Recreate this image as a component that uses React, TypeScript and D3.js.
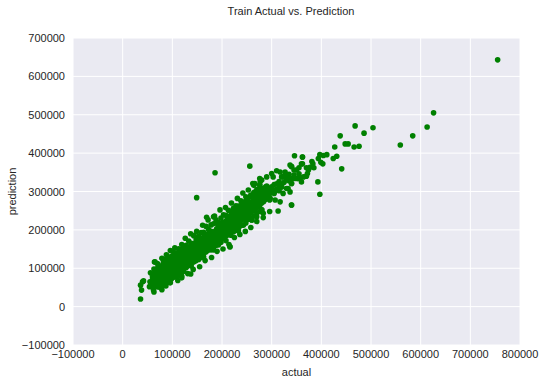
import React from "react";
import * as d3 from "d3";

// values in thousands of dollars
const actualK: number[] = [];
const predictionK: number[] = [];

// dense band core: [actual, ...predictions]
const bandColumns: number[][] = [
  [60, 70, 78], [63, 60, 85], [66, 72, 95], [68, 55, 88], [70, 65, 100], [72, 80, 70],
  [75, 90, 62, 104], [77, 75, 95], [80, 68, 84, 108], [82, 92, 78, 115], [84, 100, 72],
  [86, 88, 118, 104], [88, 80, 96, 110], [90, 70, 100, 124, 88], [92, 106, 84, 116],
  [94, 92, 120, 78], [96, 102, 86, 130, 112], [98, 96, 110, 80], [100, 90, 104, 120, 132, 76],
  [102, 98, 112, 126], [104, 88, 108, 118, 138], [106, 100, 84, 122, 112], [108, 96, 116, 130, 106],
  [110, 92, 104, 120, 140, 112], [112, 100, 124, 86, 114], [114, 108, 130, 96, 118, 142],
  [116, 104, 122, 112, 134], [118, 96, 116, 128, 108], [120, 110, 124, 100, 138, 146],
  [122, 104, 118, 130, 114, 92], [124, 112, 126, 140, 120], [126, 108, 122, 134, 150, 116],
  [128, 118, 130, 104, 142, 124], [130, 112, 126, 138, 120, 154], [132, 120, 132, 144, 108, 128],
  [134, 116, 128, 140, 150, 124], [136, 124, 136, 112, 146, 130], [138, 120, 132, 142, 158, 128],
  [140, 126, 138, 150, 116, 134], [142, 130, 142, 122, 156, 164], [144, 128, 140, 150, 134, 118],
  [146, 136, 146, 126, 160, 142], [148, 132, 144, 154, 140, 124, 170], [150, 138, 150, 128, 162, 146],
  [152, 142, 154, 134, 166, 150], [154, 136, 148, 160, 128, 156], [156, 144, 156, 138, 170, 150],
  [158, 140, 152, 162, 132, 176], [160, 148, 160, 142, 172, 154], [162, 152, 164, 136, 158, 180],
  [164, 146, 158, 170, 150, 140], [166, 156, 168, 148, 176, 162], [168, 150, 162, 174, 144, 186],
  [170, 158, 170, 152, 182, 164], [172, 162, 174, 148, 168, 190], [174, 156, 168, 180, 160],
  [176, 166, 178, 154, 186, 172], [178, 160, 172, 184, 164, 196], [180, 170, 182, 158, 190, 176],
  [183, 166, 178, 188, 172, 148, 234], [186, 174, 186, 196, 164, 180], [189, 180, 192, 170, 202],
  [192, 176, 188, 198, 182, 210], [195, 184, 196, 174, 206, 190], [198, 190, 200, 180, 212],
  [201, 186, 198, 208, 194, 220], [204, 194, 206, 182, 216], [207, 198, 210, 190, 222, 204],
  [210, 202, 214, 186, 226], [213, 206, 218, 198, 230, 212], [216, 210, 222, 156, 236, 200],
  [219, 214, 226, 204, 240], [222, 208, 220, 232, 216], [225, 218, 230, 210, 244, 198],
  [228, 222, 234, 214, 248], [231, 226, 238, 216, 252], [234, 230, 242, 220, 256, 206],
  [237, 234, 246, 224, 262], [240, 238, 250, 228, 266, 212], [244, 242, 254, 232, 270],
  [248, 246, 258, 236, 276, 224], [252, 250, 262, 240, 282], [256, 254, 266, 244, 366, 230],
  [260, 258, 270, 248, 226, 288], [264, 262, 276, 250, 292], [268, 266, 280, 256, 300],
  [272, 270, 284, 260, 296], [276, 274, 288, 264, 308, 317], [280, 278, 292, 270, 252, 304],
  [284, 282, 296, 274, 308], [288, 286, 300, 280, 312], [292, 290, 304, 284], [296, 294, 308, 302, 278],
  [300, 298, 312, 347], [305, 304, 318, 295], [310, 306, 320, 354], [315, 312, 326, 302],
  [320, 318, 338, 312], [325, 324, 340], [330, 332, 338, 308], [335, 328, 345],
  [340, 365, 321, 265, 334], [345, 343, 356], [350, 356, 334], [355, 346, 362], [362, 390, 372], [370, 340, 362],
];

// extra core fill for the upper part of the band
const bandFill: number[][] = [
  [197, 194, 207], [202, 203, 189], [206, 213, 199], [211, 208, 221], [215, 217, 204],
  [220, 224, 211], [224, 226, 237], [229, 231, 219], [233, 238, 227], [238, 242, 254],
  [242, 248, 236], [246, 252, 264], [250, 256, 244], [255, 259, 272], [259, 264, 252],
  [263, 268, 282], [267, 272, 262], [271, 278, 290],
];

// band middle ring: [actual, upper, lower]
const bandRing: number[][] = [
  [71, 93, 51], [76, 104, 50], [82, 110, 56], [87, 123, 64], [93, 118, 63], [98, 129, 72],
  [103, 141, 77], [108, 135, 78], [113, 151, 85], [118, 148, 90], [123, 157, 93], [128, 160, 102],
  [133, 171, 110], [138, 165, 106], [143, 185, 116], [148, 176, 120], [153, 184, 123], [158, 193, 128],
  [163, 194, 130], [168, 209, 143], [173, 201, 148], [178, 213, 148], [183, 216, 155], [188, 226, 160],
  [193, 219, 161], [198, 231, 168], [203, 239, 178], [208, 238, 172], [213, 251, 189], [218, 248, 186],
  [223, 256, 195], [228, 263, 200], [233, 262, 197], [238, 276, 214], [243, 271, 212], [248, 286, 218],
  [253, 284, 228], [258, 291, 228], [264, 297, 236], [270, 305, 244], [276, 304, 248],
];

// band outer fringe: [actual, prediction(s)]
const bandOuter: number[][] = [
  [63, 98, 38], [70, 112], [79, 126, 44], [88, 135], [96, 62, 146], [105, 153], [111, 68],
  [119, 162, 80], [126, 178], [131, 86], [137, 190], [142, 97], [149, 196], [155, 104], [161, 212],
  [166, 120], [172, 226], [179, 128], [185, 236], [190, 144], [196, 252], [202, 150], [207, 258],
  [214, 162], [219, 270], [225, 180], [231, 282], [236, 188], [242, 296], [247, 196], [253, 304],
  [258, 206], [264, 316], [270, 222], [277, 326], [283, 232], [290, 338], [296, 248],
];

// individually read points: [actual, prediction]
const singlePoints: number[][] = [
  [36, 20], [38, 43], [40, 65], [36, 56], [42, 67], [55, 65], [58, 61], [62, 43], [54, 52], [62, 52],
  [64, 116], [56, 88], [87, 54], [66, 80], [70, 78], [74, 85], [72, 92], [78, 88], [119, 75], [137, 85],
  [65, 117], [149, 284], [186, 349], [169, 233], [260, 226], [216, 156],
  [381, 378], [383, 372], [377, 363], [374, 356], [385, 362], [372, 347], [357, 334], [360, 325],
  [397, 396], [404, 394], [411, 396], [394, 386], [424, 386], [431, 392], [360, 372], [403, 372],
  [441, 359], [393, 325], [397, 293], [399, 376], [427, 416], [448, 424], [454, 424], [466, 416],
  [476, 418], [438, 445], [486, 452], [468, 471], [504, 466], [559, 421], [584, 445], [613, 468],
  [626, 505], [755, 643], [346, 393], [362, 390], [337, 369], [340, 365], [317, 351], [327, 351],
  [303, 338], [323, 338], [330, 332], [276, 334], [280, 330], [266, 321], [344, 334], [340, 321],
  [354, 334], [364, 338], [262, 321], [276, 317], [290, 314], [283, 308], [297, 304], [307, 302],
  [320, 312], [323, 295], [333, 308], [337, 299], [270, 295], [283, 295], [263, 278], [287, 286],
  [276, 269], [297, 282], [256, 269], [266, 260], [280, 252], [256, 243], [270, 234], [283, 243],
  [317, 273], [307, 278], [340, 265], [313, 249],
];

[bandColumns, bandFill, bandRing, bandOuter].forEach((group) =>
  group.forEach((col) => {
    for (let i = 1; i < col.length; i++) {
      actualK.push(col[0]);
      predictionK.push(col[i]);
    }
  })
);
singlePoints.forEach(([a, p]) => {
  actualK.push(a);
  predictionK.push(p);
});

const xTicks = [-100000, 0, 100000, 200000, 300000, 400000, 500000, 600000, 700000, 800000];
const yTicks = [-100000, 0, 100000, 200000, 300000, 400000, 500000, 600000, 700000];

const W = 546;
const H = 384;
const left = 73;
const right = 520;
const top = 38;
const bottom = 345;

const fmt = (v: number) => (v < 0 ? "\u2212" + Math.abs(v) : String(v));

export default function App() {
  const x = d3.scaleLinear().domain([-100000, 800000]).range([left, right]);
  const y = d3.scaleLinear().domain([-100000, 700000]).range([bottom, top]);
  const font = "'Liberation Sans', Arial, sans-serif";
  const txt = "#262626";
  return (
    <svg
      width={W}
      height={H}
      style={{ position: "absolute", left: 0, top: 0, background: "#fff" }}
      fontFamily={font}
    >
      <rect x={left} y={top} width={right - left} height={bottom - top} fill="#EAEAF2" />
      {xTicks.map((t) => (
        <line key={"gx" + t} x1={x(t)} x2={x(t)} y1={top} y2={bottom} stroke="#fff" strokeWidth={1} />
      ))}
      {yTicks.map((t) => (
        <line key={"gy" + t} x1={left} x2={right} y1={y(t)} y2={y(t)} stroke="#fff" strokeWidth={1} />
      ))}
      {actualK.map((a, i) => (
        <circle key={i} cx={x(a * 1000)} cy={y(predictionK[i] * 1000)} r={2.8} fill="#008000" />
      ))}
      {xTicks.map((t) => (
        <text key={"tx" + t} x={x(t)} y={358} textAnchor="middle" fontSize={11} fill={txt}>
          {fmt(t)}
        </text>
      ))}
      {yTicks.map((t) => (
        <text key={"ty" + t} x={left - 8} y={y(t) + 4} textAnchor="end" fontSize={11} fill={txt}>
          {fmt(t)}
        </text>
      ))}
      <text x={(left + right) / 2} y={376} textAnchor="middle" fontSize={11} fill={txt}>
        actual
      </text>
      <text
        transform={`translate(16,${(top + bottom) / 2}) rotate(-90)`}
        textAnchor="middle"
        fontSize={11}
        fill={txt}
      >
        prediction
      </text>
      <text x={291} y={15} textAnchor="middle" fontSize={11} fill={txt}>
        Train Actual vs. Prediction
      </text>
    </svg>
  );
}
